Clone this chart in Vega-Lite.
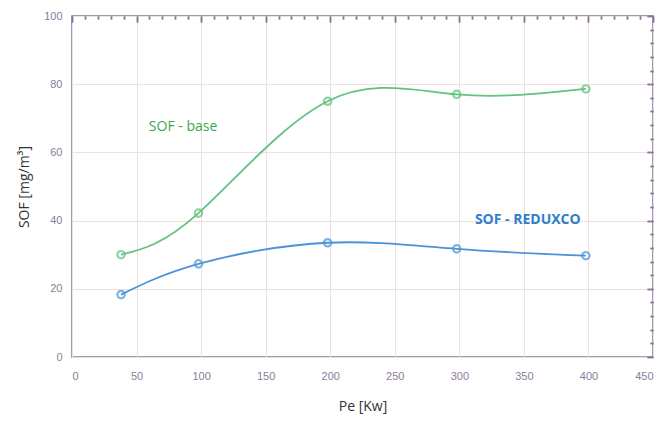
{
  "$schema": "https://vega.github.io/schema/vega-lite/v6.json",
  "width": 581,
  "height": 341,
  "autosize": {"type": "none"},
  "padding": {"left": 72, "top": 16, "right": 12, "bottom": 64},
  "background": "white",
  "config": {
    "view": {"stroke": "#85779a", "strokeWidth": 1.5},
    "axis": {"labelFont": "Liberation Sans", "titleFont": "Open Sans", "labelColor": "#8a7d98", "titleColor": "#333333", "titleFontWeight": "normal", "titleFontSize": 14, "labelFontSize": 11, "tickColor": "#85779a", "tickWidth": 1.5}
  },
  "datasets": {
    "series": [
      {"pe": 38, "sof": 30, "series": "base"},
      {"pe": 98, "sof": 42.2, "series": "base"},
      {"pe": 198, "sof": 75, "series": "base"},
      {"pe": 298, "sof": 77, "series": "base"},
      {"pe": 398, "sof": 78.6, "series": "base"},
      {"pe": 38, "sof": 18.3, "series": "reduxco"},
      {"pe": 98, "sof": 27.3, "series": "reduxco"},
      {"pe": 198, "sof": 33.5, "series": "reduxco"},
      {"pe": 298, "sof": 31.7, "series": "reduxco"},
      {"pe": 398, "sof": 29.7, "series": "reduxco"}
    ],
    "labelBase": [
      {"pe": 86, "sof": 67.4, "text": "SOF - base"}
    ],
    "labelRed": [
      {"pe": 353, "sof": 40.2, "text": "SOF - REDUXCO"}
    ]
  },
  "resolve": {"axis": {"x": "independent", "y": "independent"}},
  "layer": [
    {
      "data": {"name": "series"},
      "mark": {"type": "line", "interpolate": "natural", "strokeWidth": 1.8},
      "encoding": {
        "x": {"field": "pe", "type": "quantitative", "scale": {"domain": [0, 450], "nice": false},
          "axis": {"title": "Pe [Kw]", "values": [0, 50, 100, 150, 200, 250, 300, 350, 400, 450], "ticks": false, "domain": false, "grid": true, "gridColor": "#efdfdf", "labelPadding": 13, "titlePadding": 18}},
        "y": {"field": "sof", "type": "quantitative", "scale": {"domain": [0, 100], "nice": false},
          "axis": {"title": "SOF [mg/m³]", "values": [0, 20, 40, 60, 80, 100], "ticks": false, "domain": false, "grid": true, "gridColor": "#efdfdf", "labelPadding": 10, "titlePadding": 12}},
        "color": {"field": "series", "type": "nominal", "scale": {"domain": ["base", "reduxco"], "range": ["#62c27f", "#4a93d8"]}, "legend": null}
      }
    },
    {
      "data": {"name": "series"},
      "mark": {"type": "point", "filled": false, "size": 55, "strokeWidth": 2.2},
      "encoding": {
        "x": {"field": "pe", "type": "quantitative", "axis": {"title": null, "labels": false, "grid": false, "domain": false, "values": [0, 50, 100, 150, 200, 250, 300, 350, 400, 450], "tickSize": -6}},
        "y": {"field": "sof", "type": "quantitative", "axis": {"title": null, "labels": false, "grid": false, "domain": false, "values": [0, 20, 40, 60, 80, 100], "tickSize": -6}},
        "color": {"field": "series", "type": "nominal", "scale": {"domain": ["base", "reduxco"], "range": ["#3fa85e", "#2f7fcc"]}, "legend": null}
      }
    },
    {
      "data": {"name": "labelBase"},
      "mark": {"type": "text", "font": "Open Sans", "fontSize": 14, "color": "#3aa84a", "fontWeight": 500},
      "encoding": {
        "x": {"field": "pe", "type": "quantitative", "axis": {"title": null, "labels": false, "grid": false, "domain": false, "values": [10, 20, 30, 40, 60, 70, 80, 90, 110, 120, 130, 140, 160, 170, 180, 190, 210, 220, 230, 240, 260, 270, 280, 290, 310, 320, 330, 340, 360, 370, 380, 390, 410, 420, 430, 440], "tickSize": -3}},
        "y": {"field": "sof", "type": "quantitative", "axis": {"title": null, "labels": false, "grid": false, "domain": false, "values": [4, 8, 12, 16, 24, 28, 32, 36, 44, 48, 52, 56, 64, 68, 72, 76, 84, 88, 92, 96], "tickSize": -3}},
        "text": {"field": "text"}
      }
    },
    {
      "data": {"name": "labelRed"},
      "mark": {"type": "text", "font": "Open Sans", "fontSize": 14, "color": "#2f7fcc", "fontWeight": "bold"},
      "encoding": {
        "x": {"field": "pe", "type": "quantitative", "axis": null},
        "y": {"field": "sof", "type": "quantitative", "axis": null},
        "text": {"field": "text"}
      }
    },
    {
      "data": {"name": "series"},
      "mark": {"type": "point", "opacity": 0},
      "encoding": {
        "x": {"field": "pe", "type": "quantitative", "axis": {"orient": "top", "title": null, "labels": false, "grid": false, "domain": false, "values": [0, 50, 100, 150, 200, 250, 300, 350, 400, 450], "tickSize": -6}},
        "y": {"field": "sof", "type": "quantitative", "axis": {"orient": "right", "title": null, "labels": false, "grid": false, "domain": false, "values": [0, 20, 40, 60, 80, 100], "tickSize": -6}}
      }
    },
    {
      "data": {"name": "series"},
      "mark": {"type": "point", "opacity": 0},
      "encoding": {
        "x": {"field": "pe", "type": "quantitative", "axis": {"orient": "top", "title": null, "labels": false, "grid": false, "domain": false, "values": [10, 20, 30, 40, 60, 70, 80, 90, 110, 120, 130, 140, 160, 170, 180, 190, 210, 220, 230, 240, 260, 270, 280, 290, 310, 320, 330, 340, 360, 370, 380, 390, 410, 420, 430, 440], "tickSize": -3}},
        "y": {"field": "sof", "type": "quantitative", "axis": {"orient": "right", "title": null, "labels": false, "grid": false, "domain": false, "values": [4, 8, 12, 16, 24, 28, 32, 36, 44, 48, 52, 56, 64, 68, 72, 76, 84, 88, 92, 96], "tickSize": -3}}
      }
    }
  ]
}
